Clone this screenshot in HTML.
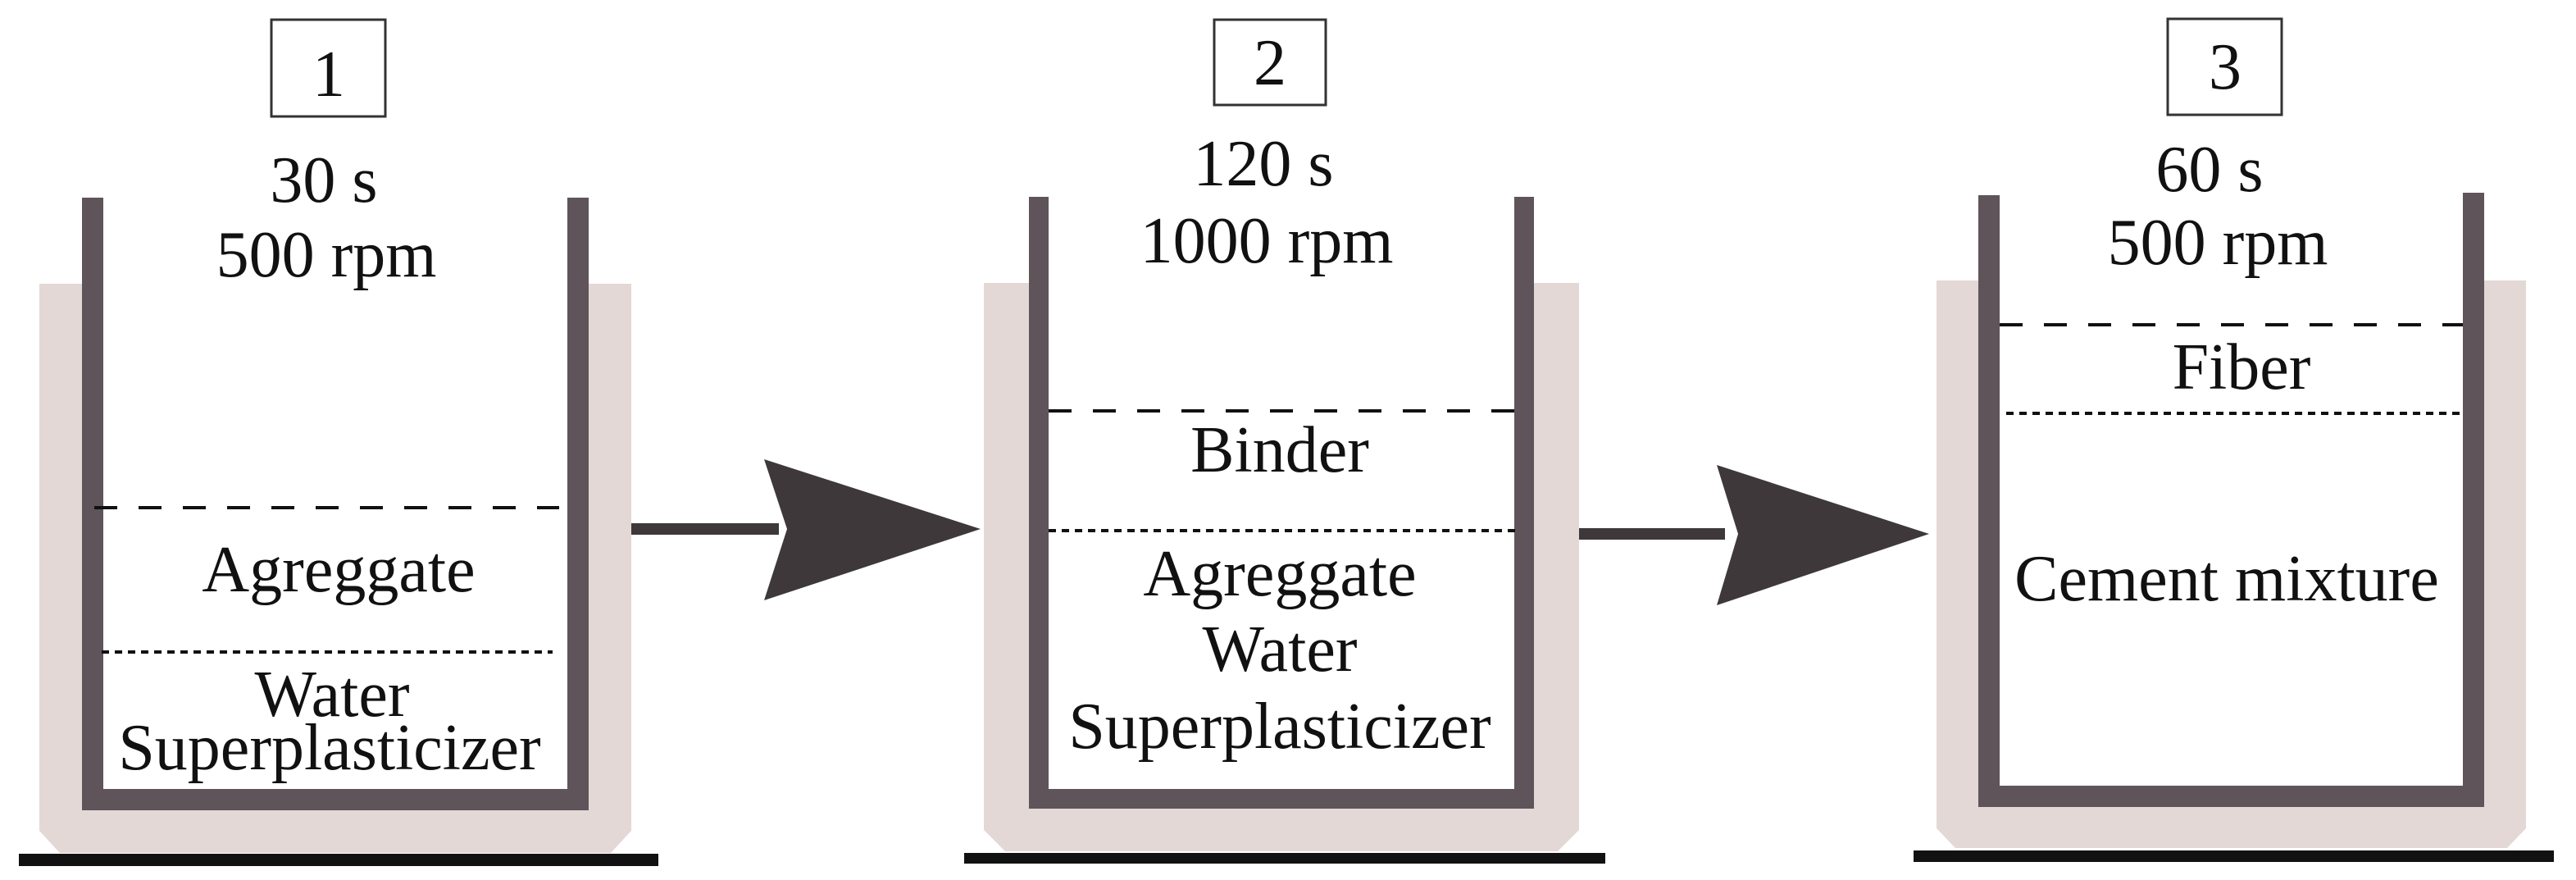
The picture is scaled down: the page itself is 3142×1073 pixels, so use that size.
<!DOCTYPE html>
<html><head><meta charset="utf-8"><style>
html,body{margin:0;padding:0;background:#fff;}
svg{display:block;}
text{font-family:"Liberation Serif",serif;fill:#111;font-size:80px;text-anchor:middle;}
</style></head><body>
<svg width="3142" height="1073" viewBox="0 0 3142 1073" xmlns="http://www.w3.org/2000/svg">
<rect width="3142" height="1073" fill="#fff"/>
<!-- Cup 1 -->
<polygon points="48,346 100,346 100,988 718,988 718,346 770,346 770,1013 745,1040 73,1040 48,1013" fill="#e3d8d6"/>
<path d="M113,241 V975 H705 V241" fill="none" stroke="#5e5459" stroke-width="26"/>
<rect x="23" y="1041" width="780" height="15" fill="#111"/>
<rect x="331" y="24" width="139" height="118" fill="#fff" stroke="#333" stroke-width="3"/>
<text x="401" y="117">1</text>
<text x="395" y="246">30 s</text>
<text x="398" y="337">500 rpm</text>
<line x1="115" y1="619" x2="682" y2="619" stroke="#111" stroke-width="4" stroke-dasharray="28 26"/>
<line x1="124" y1="795" x2="674" y2="795" stroke="#111" stroke-width="4" stroke-dasharray="9 7"/>
<text x="413" y="721">Agreggate</text>
<text x="405" y="873">Water</text>
<text x="402" y="938">Superplasticizer</text>
<!-- Arrow 1 -->
<rect x="770" y="638" width="180" height="14" fill="#3e383b"/>
<polygon points="932,560 1196,645 932,732 960,645" fill="#3e383b"/>
<!-- Cup 2 -->
<polygon points="1200,345 1256,345 1256,986 1870,986 1870,345 1926,345 1926,1012 1900,1038 1226,1038 1200,1012" fill="#e3d8d6"/>
<path d="M1267,240 V974 H1859 V240" fill="none" stroke="#5e5459" stroke-width="24"/>
<rect x="1176" y="1040" width="782" height="13" fill="#111"/>
<rect x="1481" y="24" width="136" height="104" fill="#fff" stroke="#333" stroke-width="3"/>
<text x="1549" y="103">2</text>
<text x="1541" y="226">120 s</text>
<text x="1545" y="320">1000 rpm</text>
<line x1="1279" y1="501" x2="1848" y2="501" stroke="#111" stroke-width="4" stroke-dasharray="28 26"/>
<line x1="1279" y1="647" x2="1848" y2="647" stroke="#111" stroke-width="4" stroke-dasharray="9 7"/>
<text x="1561" y="575">Binder</text>
<text x="1561" y="726">Agreggate</text>
<text x="1561" y="818">Water</text>
<text x="1561" y="912">Superplasticizer</text>
<!-- Arrow 2 -->
<rect x="1926" y="644" width="178" height="14" fill="#3e383b"/>
<polygon points="2094,567 2353,651 2094,738 2120,651" fill="#3e383b"/>
<!-- Cup 3 -->
<polygon points="2362,342 2413,342 2413,984 3030,984 3030,342 3081,342 3081,1010 3058,1034 2385,1034 2362,1010" fill="#e3d8d6"/>
<path d="M2426,238 V971 H3017 V235" fill="none" stroke="#5e5459" stroke-width="26"/>
<rect x="2334" y="1037" width="781" height="14" fill="#111"/>
<rect x="2644" y="23" width="139" height="117" fill="#fff" stroke="#333" stroke-width="3"/>
<text x="2714" y="108">3</text>
<text x="2695" y="233">60 s</text>
<text x="2705" y="322">500 rpm</text>
<line x1="2439" y1="396" x2="3004" y2="396" stroke="#111" stroke-width="4" stroke-dasharray="28 26"/>
<line x1="2447" y1="504" x2="3004" y2="504" stroke="#111" stroke-width="4" stroke-dasharray="9 7"/>
<text x="2734" y="474">Fiber</text>
<text x="2716" y="732">Cement mixture</text>
</svg>
</body></html>
